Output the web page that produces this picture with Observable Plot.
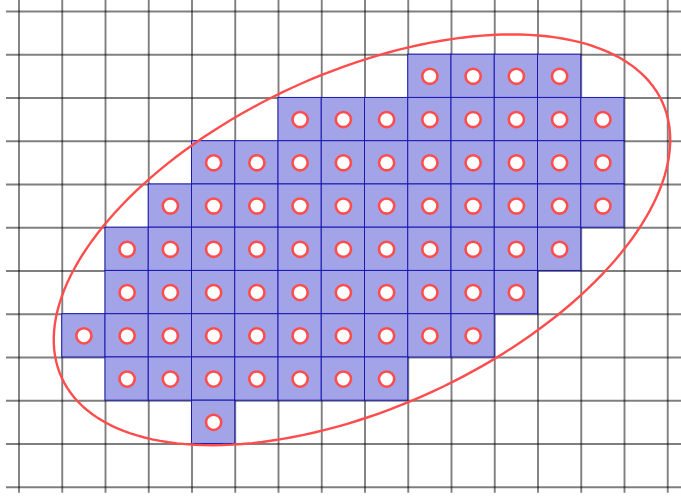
<!DOCTYPE html>
<html>
<head>
<meta charset="utf-8">
<script src="https://cdn.jsdelivr.net/npm/d3@7"></script>
<script src="https://cdn.jsdelivr.net/npm/@observablehq/plot@0.6"></script>
<style>
  html, body { margin: 0; padding: 0; background: #fff; }
  #chart svg { display: block; }
</style>
</head>
<body>
<div id="chart"></div>
<script>
// Grid lines (integer positions)
const gridX = [0, 1, 2, 3, 4, 5, 6, 7, 8, 9, 10, 11, 12, 13, 14, 15];
const gridY = [0, 1, 2, 3, 4, 5, 6, 7, 8, 9, 10, 11];

// Filled cells, one entry per row: lower y of row, first and last column
const rowBottom = [9, 8, 7, 6, 5, 4, 3, 2, 1];
const firstCol  = [9, 6, 4, 3, 2, 2, 1, 2, 4];
const lastCol   = [12, 13, 13, 13, 12, 11, 10, 8, 4];

// Ellipse parameters (data units)
const ellipseCenter = [7.93, 5.72];
const ellipseAxes = [7.64, 3.87];
const ellipseAngleDeg = 24.7;

// Build cells table
const cells = [];
rowBottom.forEach((y, i) => {
  for (let c = firstCol[i]; c <= lastCol[i]; c++) cells.push({x: c, y});
});

// Ellipse outline points
const ellipsePts = d3.range(0, 361, 2).map(deg => {
  const t = deg * Math.PI / 180, th = ellipseAngleDeg * Math.PI / 180;
  const u = ellipseAxes[0] * Math.cos(t), v = ellipseAxes[1] * Math.sin(t);
  return {
    x: ellipseCenter[0] + u * Math.cos(th) - v * Math.sin(th),
    y: ellipseCenter[1] + u * Math.sin(th) + v * Math.cos(th)
  };
});

const k = 43.25; // px per unit
const W = 681, H = 497, x0 = 18.5, y0 = 486.7;

const chart = Plot.plot({
  width: W,
  height: H,
  margin: 0,
  x: {domain: [-x0 / k, (W - x0) / k], axis: null},
  y: {domain: [(y0 - H) / k, y0 / k], axis: null},
  marks: [
    Plot.ruleY(gridY, {y: d => d, x1: () => -0.29, x2: () => 15.6, stroke: "black", strokeOpacity: 0.5, strokeWidth: 1.9}),
    Plot.ruleX(gridX, {x: d => d, y1: () => -0.14, y2: () => 11.6, stroke: "black", strokeOpacity: 0.5, strokeWidth: 1.9}),
    Plot.rect(cells, {x1: d => d.x, x2: d => d.x + 1, y1: d => d.y, y2: d => d.y + 1, fill: "#a3a3e8", stroke: "#1a1ab0", strokeWidth: 1}),
    Plot.dot(cells, {x: d => d.x + 0.5, y: d => d.y + 0.5, r: 7.6, fill: "white", stroke: "#ff4d4d", strokeWidth: 2.6}),
    Plot.line(ellipsePts, {x: "x", y: "y", stroke: "#ff4d4d", strokeWidth: 2.4, curve: "linear"})
  ]
});
document.getElementById("chart").appendChild(chart);
</script>
</body>
</html>
